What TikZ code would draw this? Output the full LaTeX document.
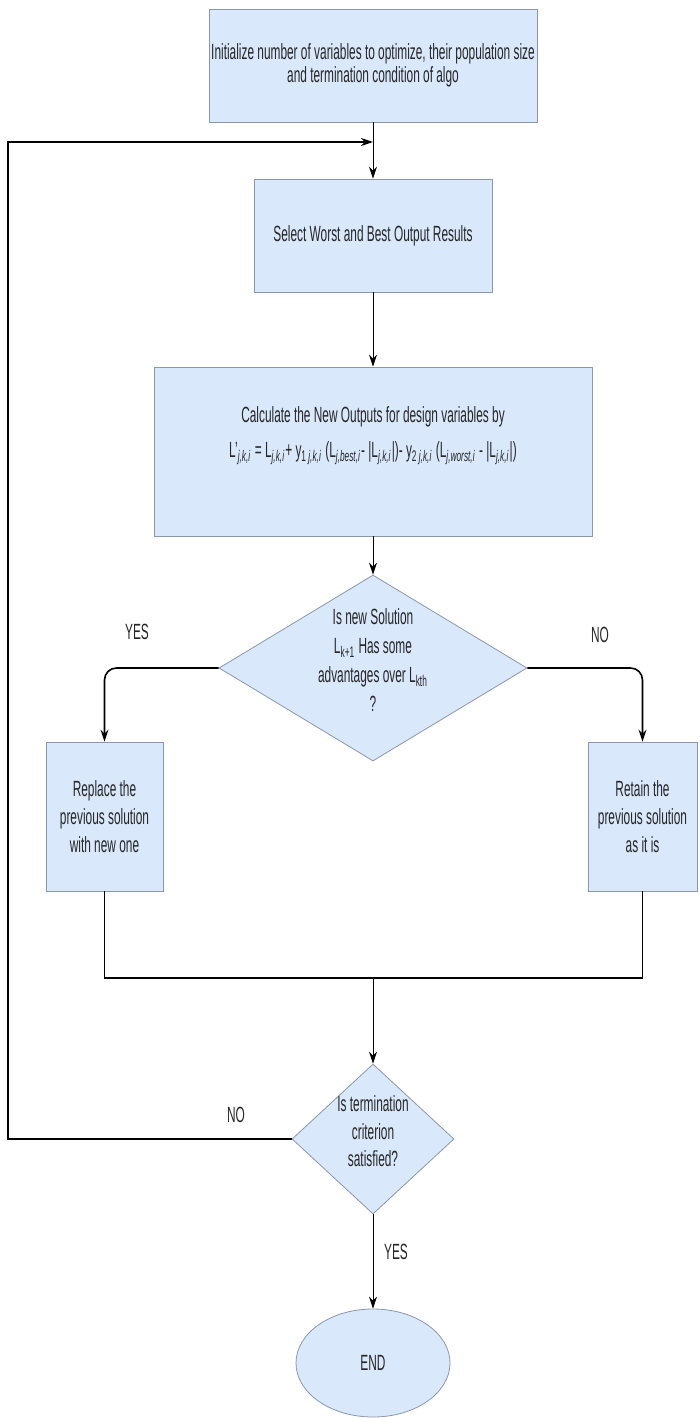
\documentclass[tikz,border=0pt]{standalone}
\usepackage{fontspec}
\setmainfont{Liberation Sans}[FakeStretch=0.54]
\usetikzlibrary{shapes.geometric,arrows.meta}
\definecolor{boxfill}{HTML}{DAE8FC}
\definecolor{boxline}{HTML}{8C97AA}
\begin{document}
\begin{tikzpicture}[x=0.5pt,y=-0.5pt,
    box/.style={draw=boxline,fill=boxfill,align=center,inner sep=0pt,text=black!85,font=\fontsize{11}{11.5}\selectfont},
    dec/.style={draw=boxline,fill=boxfill,diamond,inner sep=0pt,text=black!85},
    lbl/.style={text=black!85,font=\fontsize{11}{12}\selectfont},
    >={Stealth[length=6pt,width=4pt]}]
    \fill[white] (0,0) rectangle (700,1418);
    \useasboundingbox (0,0) rectangle (700,1418);
    \node[box,minimum width=164pt,minimum height=56.5pt](init) at (373,65.5)
        {Initialize number of variables to optimize, their population size\\and termination condition of algo};
    \node[box,minimum width=119pt,minimum height=56.5pt](sel) at (373,235.5)
        {Select Worst and Best Output Results};
    \node[box,minimum width=219pt,minimum height=84.5pt](calc) at (373,451.5)
        {Calculate the New Outputs for design variables by\\[6pt]
        L'\textsubscript{\textit{j,k,i}} = L\textsubscript{\textit{j,k,i}}+ y\textsubscript{1 \textit{j,k,i}} (L\textsubscript{\textit{j,best,i}}- |L\textsubscript{\textit{j,k,i}}|)- y\textsubscript{2 \textit{j,k,i}} (L\textsubscript{\textit{j,worst,i}} - |L\textsubscript{\textit{j,k,i}}|)\\[8pt]\mbox{}};
    \node[dec,minimum width=154pt,minimum height=93pt,font=\fontsize{11}{14.5}\selectfont](dec) at (373,668)
        {\smash{\begin{tabular}{@{}c@{}}Is new Solution\\L\textsubscript{k+1} Has some\\advantages over L\textsubscript{kth}\\?\end{tabular}}};
    \node[box,minimum width=58.5pt,minimum height=74.5pt,font=\fontsize{11}{14}\selectfont](rep) at (104.5,816.5)
        {Replace the\\previous solution\\with new one};
    \node[box,minimum width=54.5pt,minimum height=74.5pt,font=\fontsize{11}{14}\selectfont](ret) at (642.5,816.5)
        {Retain the\\previous solution\\as it is};
    \node[dec,minimum width=81pt,minimum height=75pt,font=\fontsize{11}{13.75}\selectfont](term) at (373,1139)
        {\smash{\begin{tabular}{@{}c@{}}Is termination\\criterion\\satisfied?\end{tabular}}};
    \node[box,ellipse,minimum width=77pt,minimum height=54pt](stop) at (373,1363){END};
    \node[lbl](yes1) at (137,632){YES};
    \node[lbl](no1) at (600,635){NO};
    \node[lbl](no2) at (236,1115){NO};
    \node[lbl](yes2) at (396,1252){YES};
    \coordinate (join) at (373,978);
    \coordinate (back) at (8,142);
    \draw[->](init) -- (sel);
    \draw[->](sel) -- (calc);
    \draw[->](calc) -- (dec);
    \draw[->,thick,rounded corners=6pt](dec.west) -| (rep.north);
    \draw[->,thick,rounded corners=6pt](dec.east) -| (ret.north);
    \draw(rep.south) |- (join);
    \draw(ret.south) |- (join);
    \draw[thick](rep.south |- join) -- (ret.south |- join);
    \draw[->](join) -- (term);
    \draw[->,thick](term.west) -| (back) -- (back -| init.south);
    \draw[->](term) -- (stop);
\end{tikzpicture}
\end{document}
